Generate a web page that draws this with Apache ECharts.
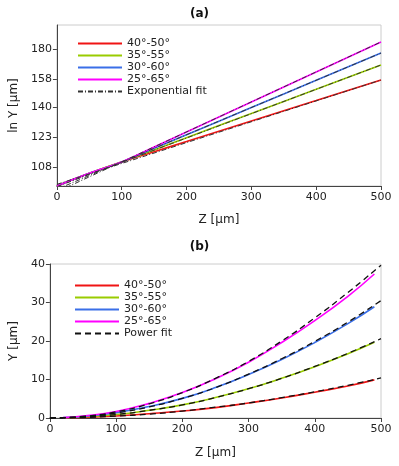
<!DOCTYPE html>
<html style="height: 100%">
<head>
    <meta charset="utf-8">
    <title>ECharts</title>
    <script src="https://cdn.jsdelivr.net/npm/echarts@6/dist/echarts.min.js"></script>
</head>
<body style="height: 100%; margin: 0">
<div id="main" style="width: 399px; height: 466px"></div>
<script type="text/javascript">

    // 数据 (a): ln Y vs Z, Y in µm
    var names = ['40°-50°', '35°-55°', '30°-60°', '25°-65°'];
    var colors = ['#f01414', '#99cc00', '#3a6fe8', '#ff00ff'];

    var zA = [0, 50, 100, 150, 200, 300, 400, 500];
    var yA_40 = [99.5, 105.1, 110.4, 115.4, 120.6, 131.8, 144.0, 157.4];
    var yA_35 = [99.5, 105.1, 110.4, 116.3, 122.6, 136.2, 151.2, 168.0];
    var yA_30 = [99.5, 105.1, 110.4, 117.1, 124.2, 139.7, 157.2, 176.9];
    var yA_25 = [99.5, 105.1, 110.4, 117.8, 125.7, 143.1, 163.0, 185.6];

    // exponential fit, end points
    var zFitA = [0, 500];
    var fitA_40 = [100.2, 157.4];
    var fitA_35 = [99.2, 168.0];
    var fitA_30 = [98.1, 176.9];
    var fitA_25 = [97.0, 185.6];

    var ticksA = [108, 123, 140, 158, 180];

    // 数据 (b): Y vs Z
    var zB = [20, 50, 100, 150, 200, 250, 300, 350, 400, 450, 490];
    var yB_40 = [0.0, 0.15, 0.5, 1.1, 1.8, 2.7, 3.9, 5.2, 6.7, 8.3, 9.9];
    var yB_35 = [0.05, 0.3, 0.9, 2.0, 3.4, 5.3, 7.6, 10.3, 13.3, 16.7, 19.7];
    var yB_30 = [0.1, 0.4, 1.4, 3.0, 5.1, 7.9, 11.3, 15.2, 19.6, 24.5, 28.9];
    var yB_25 = [0.1, 0.5, 1.7, 3.8, 6.6, 10.2, 14.5, 19.6, 25.3, 31.6, 37.4];

    // power fit
    var zFitB = [0, 50, 100, 150, 200, 250, 300, 350, 400, 450, 500];
    var fitB_40 = [0, 0.13, 0.5, 1.0, 1.8, 2.8, 3.9, 5.3, 6.8, 8.5, 10.4];
    var fitB_35 = [0, 0.23, 0.9, 2.0, 3.4, 5.3, 7.6, 10.3, 13.4, 16.8, 20.6];
    var fitB_30 = [0, 0.35, 1.3, 2.9, 5.1, 7.9, 11.4, 15.4, 19.9, 24.9, 30.5];
    var fitB_25 = [0, 0.4, 1.6, 3.7, 6.6, 10.3, 14.7, 20.0, 26.0, 32.6, 39.7];

    var font = 'DejaVu Sans';
    var axisCol = '#444';

    function pairs(xs, ys, f) {
        return xs.map(function (x, i) { return [x, f ? f(ys[i]) : ys[i]]; });
    }

    var dataA = [yA_40, yA_35, yA_30, yA_25];
    var fitsA = [fitA_40, fitA_35, fitA_30, fitA_25];
    var dataB = [yB_40, yB_35, yB_30, yB_25];
    var fitsB = [fitB_40, fitB_35, fitB_30, fitB_25];

    var series = [];
    names.forEach(function (n, i) {
        series.push({
            name: n, type: 'line', xAxisIndex: 0, yAxisIndex: 0,
            data: pairs(zA, dataA[i], Math.log), symbol: 'none', smooth: true,
            lineStyle: {color: colors[i], width: 1.6}, itemStyle: {color: colors[i]}, z: 2
        });
    });
    names.forEach(function (n, i) {
        series.push({
            name: 'Exponential fit', type: 'line', xAxisIndex: 0, yAxisIndex: 0,
            data: pairs(zFitA, fitsA[i], Math.log), symbol: 'none',
            lineStyle: {color: '#333', width: 1, type: [5, 2, 1, 2]}, itemStyle: {color: '#555'}, z: 3
        });
    });
    names.forEach(function (n, i) {
        series.push({
            name: n, type: 'line', xAxisIndex: 1, yAxisIndex: 1,
            data: pairs(zB, dataB[i]), symbol: 'none', smooth: true,
            lineStyle: {color: colors[i], width: 1.6}, itemStyle: {color: colors[i]}, z: 2
        });
    });
    names.forEach(function (n, i) {
        series.push({
            name: 'Power fit', type: 'line', xAxisIndex: 1, yAxisIndex: 1,
            data: pairs(zFitB, fitsB[i]), symbol: 'none', smooth: true,
            lineStyle: {color: '#111', width: 1.3, type: [6, 4]}, itemStyle: {color: '#111'}, z: 3
        });
    });

    var myChart = echarts.init(document.getElementById('main'));

    function xAxisCfg(idx) {
        return {
            type: 'value', gridIndex: idx, min: 0, max: 500, interval: 100,
            name: 'Z [µm]', nameLocation: 'middle', nameGap: idx === 0 ? 28 : 29,
            nameTextStyle: {fontFamily: font, fontSize: 12, color: '#222'},
            axisLine: {lineStyle: {color: axisCol}},
            axisTick: {length: 4, lineStyle: {color: axisCol}},
            axisLabel: {fontFamily: font, fontSize: 11, color: '#222', margin: 6},
            splitLine: {show: false}
        };
    }

    var lnTicks = ticksA.map(Math.log);

    var legendBase = {
        orient: 'vertical', itemWidth: 44, itemHeight: 12, itemGap: 1,
        itemStyle: {opacity: 0},
        textStyle: {fontFamily: font, fontSize: 11, color: '#222'}
    };

    option = {
        animation: false,
        backgroundColor: '#fff',
        title: [
            {text: '(a)', left: 'center', top: 3, textStyle: {fontFamily: font, fontSize: 12, fontWeight: 'bold', color: '#111'}},
            {text: '(b)', left: 'center', top: 236, textStyle: {fontFamily: font, fontSize: 12, fontWeight: 'bold', color: '#111'}}
        ],
        legend: [
            Object.assign({data: names.concat(['Exponential fit']), left: 72, top: 33}, legendBase),
            Object.assign({data: names.concat(['Power fit']), left: 69, top: 275}, legendBase)
        ],
        grid: [
            {left: 54, right: 18, top: 25, height: 161, show: true, borderColor: '#ccc', borderWidth: 1},
            {left: 47, right: 18, top: 264, height: 154, show: true, borderColor: '#ccc', borderWidth: 1}
        ],
        xAxis: [xAxisCfg(0), xAxisCfg(1)],
        yAxis: [
            {
                type: 'value', gridIndex: 0, min: 4.600, max: 5.297,
                name: 'ln Y [µm]', nameLocation: 'middle', nameGap: 36,
                nameTextStyle: {fontFamily: font, fontSize: 12, color: '#222'},
                axisLine: {show: true, lineStyle: {color: axisCol}},
                axisTick: {show: true, length: 4, customValues: lnTicks, lineStyle: {color: axisCol}},
                axisLabel: {
                    fontFamily: font, fontSize: 11, color: '#222', margin: 5, customValues: lnTicks,
                    formatter: function (v) { return String(Math.round(Math.exp(v))); }
                },
                splitLine: {show: false}
            },
            {
                type: 'value', gridIndex: 1, min: 0, max: 40, interval: 10,
                name: 'Y [µm]', nameLocation: 'middle', nameGap: 29,
                nameTextStyle: {fontFamily: font, fontSize: 12, color: '#222'},
                axisLine: {show: true, lineStyle: {color: axisCol}},
                axisTick: {show: true, length: 4, lineStyle: {color: axisCol}},
                axisLabel: {fontFamily: font, fontSize: 11, color: '#222', margin: 5},
                splitLine: {show: false}
            }
        ],
        series: series
    };

    myChart.setOption(option);
</script>
</body>
</html>
